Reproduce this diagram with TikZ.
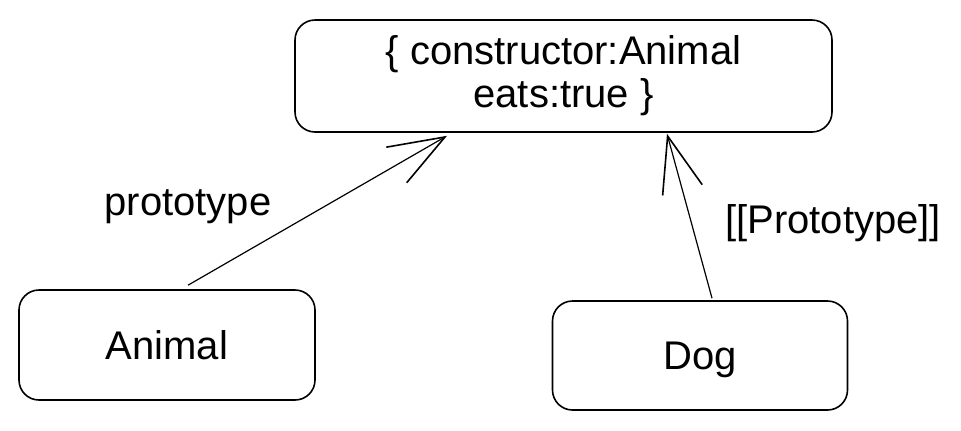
\documentclass[tikz,border=0pt]{standalone}
\usepackage{fontspec}
\setmainfont{Liberation Sans}
\usepackage{tikz}
\usetikzlibrary{arrows.meta}
\newcommand{\protofont}{\fontsize{20pt}{21.5pt}\selectfont}

\begin{document}
\begin{tikzpicture}[x=0.5pt, y=-0.5pt,
  objbox/.style={draw, line width=0.8pt, rounded corners=10pt, font=\protofont, align=center},
  protolink/.style={line width=0.6pt, -{Straight Barb[length=28pt, width=20.5pt, line width=0.8pt]}},
  linklabel/.style={font=\protofont, anchor=base}]
                \useasboundingbox (0,0) rectangle (961,430);
                % objects
                \node[objbox, minimum width=268.5pt, minimum height=56pt] (proto) at (563.5,76) {\{ constructor:Animal\\eats:true \}};
                \node[objbox, minimum width=148pt, minimum height=55pt, text depth=0pt] (animal) at (167,345) {Animal};
                \node[objbox, minimum width=147.5pt, minimum height=54.5pt, text depth=0pt] (dog) at (700,355.5) {Dog};
                % links
                \draw[protolink] ([xshift=10.5pt, yshift=2pt]animal.north) -- ([xshift=-58.25pt, yshift=-1.5pt]proto.south);
                \draw[protolink] ([xshift=6pt, yshift=1pt]dog.north) -- ([xshift=51.75pt, yshift=-0.5pt]proto.south);
                % labels
                \node[linklabel] (protolabel) at (188,215) {prototype};
                \node[linklabel] (dunderlabel) at (833,233) {[[Prototype]]};
\end{tikzpicture}
\end{document}
